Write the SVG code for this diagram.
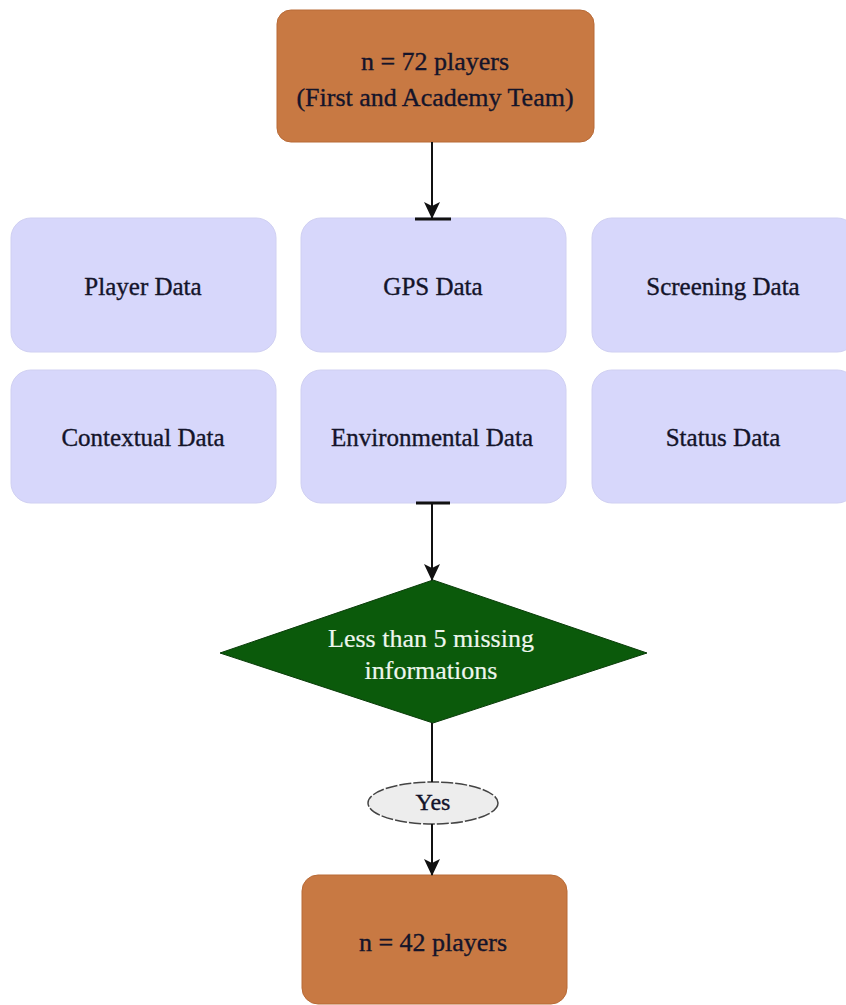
<svg xmlns="http://www.w3.org/2000/svg" width="846" height="1005" viewBox="0 0 846 1005">
<style>
.t{font-family:"Liberation Serif","Times New Roman",serif;font-size:25px;fill:#14142a;stroke:#14142a;stroke-width:0.35;text-anchor:middle;dominant-baseline:central}
.w{fill:#eef6ee;stroke:#eef6ee;stroke-width:0.2}
.or{fill:#c87943;stroke:#b86a36;stroke-width:1}
.lv{fill:#d7d7fb;stroke:#d0d0f2;stroke-width:1}
.ln{stroke:#111;stroke-width:2;fill:none}
.tk{stroke:#111;stroke-width:3}
</style>
<defs>
<marker id="ah" viewBox="0 0 18 18" refX="16" refY="9" markerWidth="18" markerHeight="18" markerUnits="userSpaceOnUse" orient="auto">
<path d="M0,1 L17,9 L0,17 L4,9 Z" fill="#111"/>
</marker>
</defs>
<rect width="846" height="1005" fill="#fff"/>
<g id="start">
<rect class="or" x="277" y="10" width="317" height="132" rx="14"/>
<text class="t" x="435" y="61" style="font-size:26px">n = 72 players</text>
<text class="t" x="435" y="97" style="font-size:26px">(First and Academy Team)</text>
</g>
<g id="player-data">
<rect class="lv" x="11" y="218" width="265" height="134" rx="20"/>
<text class="t" x="143" y="286">Player Data</text>
</g>
<g id="gps-data">
<rect class="lv" x="301" y="218" width="265" height="134" rx="20"/>
<text class="t" x="433" y="286">GPS Data</text>
</g>
<g id="screening-data">
<rect class="lv" x="592" y="218" width="265" height="134" rx="20"/>
<text class="t" x="723" y="286">Screening Data</text>
</g>
<g id="contextual-data">
<rect class="lv" x="11" y="370" width="265" height="133" rx="20"/>
<text class="t" x="143" y="437">Contextual Data</text>
</g>
<g id="environmental-data">
<rect class="lv" x="301" y="370" width="265" height="133" rx="20"/>
<text class="t" x="432" y="437">Environmental Data</text>
</g>
<g id="status-data">
<rect class="lv" x="592" y="370" width="265" height="133" rx="20"/>
<text class="t" x="723" y="437">Status Data</text>
</g>
<g id="decision">
<polygon points="433,580 647,653 433,723 220,653" fill="#0b5a0b" stroke="#0a3d0a" stroke-width="1"/>
<text class="t w" x="431" y="638" style="font-size:26px">Less than 5 missing</text>
<text class="t w" x="431" y="670" style="font-size:26px">informations</text>
</g>
<g id="yes">
<ellipse cx="433" cy="803" rx="65" ry="21" fill="#ededed" stroke="#444" stroke-width="1.5" stroke-dasharray="12 2"/>
<text class="t" x="433" y="802" style="font-size:24px">Yes</text>
</g>
<g id="end">
<rect class="or" x="302" y="875" width="265" height="129" rx="16"/>
<text class="t" x="433" y="942" style="font-size:26px">n = 42 players</text>
</g>
<g id="connectors">
<line class="ln" x1="432" y1="142" x2="432" y2="218" marker-end="url(#ah)"/>
<line class="tk" x1="415" y1="219" x2="451" y2="219"/>
<line class="ln" x1="432" y1="504" x2="432" y2="580" marker-end="url(#ah)"/>
<line class="tk" x1="416" y1="503" x2="450" y2="503"/>
<line class="ln" x1="432" y1="723" x2="432" y2="782"/>
<line class="ln" x1="432" y1="824" x2="432" y2="875" marker-end="url(#ah)"/>
</g>
</svg>
